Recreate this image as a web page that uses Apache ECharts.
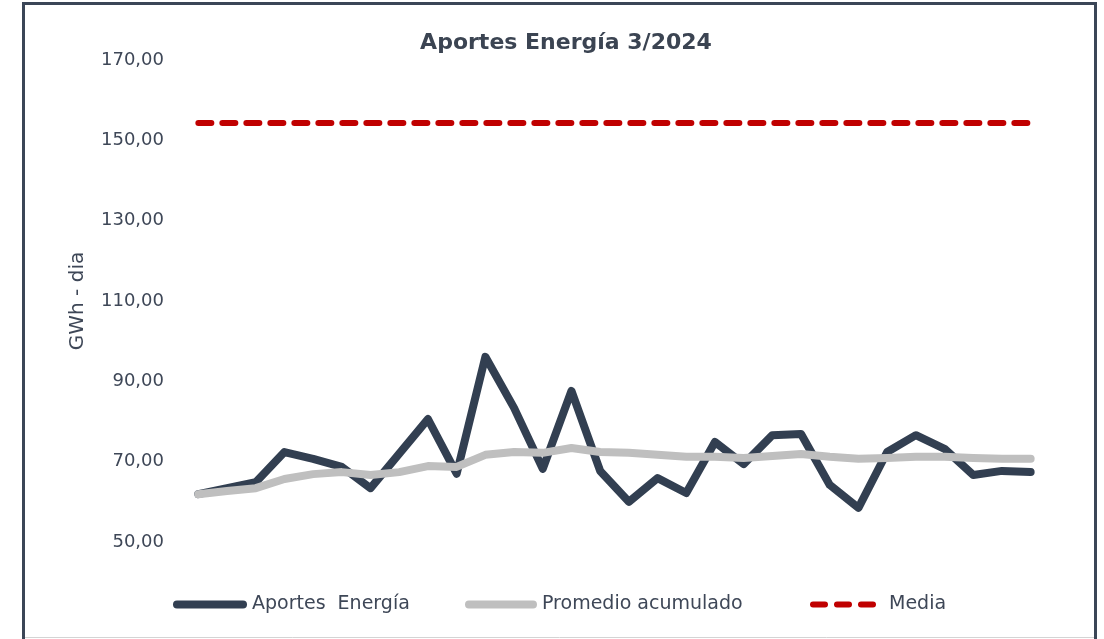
<!DOCTYPE html>
<html>
<head>
<meta charset="utf-8">
<title>Aportes Energía 3/2024</title>
<script src="https://cdn.jsdelivr.net/npm/echarts@6/dist/echarts.min.js"></script>
<style>
  html, body { margin: 0; padding: 0; background: #ffffff; }
  #chart { width: 1104px; height: 639px; }
</style>
</head>
<body>
<div id="chart"></div>
<script>
// días de marzo con dato
const days = [
  1, 2, 3, 4, 5, 6, 7, 8, 9, 10,
  11, 12, 13, 14, 15, 16, 17, 18, 19, 20,
  21, 22, 23, 24, 25, 26, 27, 28, 29, 30,
];

// GWh-dia
const aportesEnergia = [
  61.9, 63.4, 64.9, 72.4, 70.7, 68.7, 63.4, 72.0, 80.6, 67.0,
  96.1, 83.4, 68.2, 87.6, 67.7, 60.0, 65.9, 62.2, 74.9, 69.4,
  76.6, 76.9, 64.2, 58.5, 72.4, 76.6, 73.2, 66.7, 67.7, 67.4,
];

const promedioAcumulado = [
  61.9, 62.7, 63.4, 65.7, 66.9, 67.4, 66.7, 67.4, 68.9, 68.7,
  71.7, 72.4, 72.2, 73.4, 72.4, 72.2, 71.7, 71.2, 71.2, 70.9,
  71.4, 71.9, 71.2, 70.7, 70.9, 71.2, 71.2, 70.9, 70.7, 70.7,
];

const mediaValue = 154.3;
const media = days.map(() => mediaValue);

const yTicks = { min: 50, max: 170, interval: 20 };

const FONT = "DejaVu Sans";
const TEXT = "#3e4757";
const DARK = "#323f51";
const GREY = "#bfbfbf";
const RED = "#c00000";

// iconos de leyenda: trazo grueso con extremos redondeados
const ICON_SOLID = "path://M4,0 L70,0 A4,4 0 0 1 70,8 L4,8 A4,4 0 0 1 4,0 Z";
const ICON_DASH =
  "path://M3,0 L15,0 A3,3 0 0 1 15,6 L3,6 A3,3 0 0 1 3,0 Z " +
  "M27,0 L39,0 A3,3 0 0 1 39,6 L27,6 A3,3 0 0 1 27,0 Z " +
  "M51,0 L63,0 A3,3 0 0 1 63,6 L51,6 A3,3 0 0 1 51,0 Z";

function fmtComma(v) {
  return Number(v).toFixed(2).replace(".", ",");
}

const chart = echarts.init(document.getElementById("chart"), null, {
  renderer: "canvas",
});

const legendText = { color: TEXT, fontFamily: FONT, fontSize: 19 };

const option = {
  animation: false,
  backgroundColor: "#ffffff",

  title: {
    text: "Aportes Energía 3/2024",
    left: 561,
    top: 27,
    textAlign: "center",
    textStyle: {
      color: "#3b4452",
      fontFamily: FONT,
      fontSize: 22,
      fontWeight: "bold",
    },
  },

  graphic: [
    {
      type: "rect",
      shape: { x: 23.5, y: 3.5, width: 1072, height: 650 },
      style: { fill: null, stroke: "#3b4657", lineWidth: 3 },
      silent: true,
    },
    {
      type: "line",
      shape: { x1: 25, y1: 637.5, x2: 1094, y2: 637.5 },
      style: { stroke: "#d4d4d4", lineWidth: 1 },
      silent: true,
    },
  ],

  legend: [
    {
      data: [{ name: "Aportes  Energía", icon: ICON_SOLID }],
      left: 173,
      top: 595,
      padding: 0,
      itemWidth: 74,
      itemHeight: 8,
      textStyle: legendText,
    },
    {
      data: [{ name: "Promedio acumulado", icon: ICON_SOLID }],
      left: 465,
      top: 595,
      padding: 0,
      itemWidth: 72,
      itemHeight: 8,
      textStyle: legendText,
    },
    {
      data: [{ name: "Media", icon: ICON_DASH }],
      left: 810,
      top: 595,
      padding: 0,
      itemWidth: 66,
      itemHeight: 6,
      textStyle: { ...legendText, padding: [0, 0, 0, 8] },
    },
  ],

  grid: {
    left: 184,
    right: 59,
    top: 60,
    bottom: 97,
    containLabel: false,
  },

  xAxis: {
    type: "category",
    data: days,
    boundaryGap: true,
    show: false,
  },

  yAxis: {
    type: "value",
    min: yTicks.min,
    max: yTicks.max,
    interval: yTicks.interval,
    name: "GWh - dia",
    nameLocation: "middle",
    nameRotate: 90,
    nameGap: 96,
    nameTextStyle: { color: TEXT, fontFamily: FONT, fontSize: 20 },
    axisLine: { show: false },
    axisTick: { show: false },
    splitLine: { show: false },
    axisLabel: {
      color: TEXT,
      fontFamily: FONT,
      fontSize: 18,
      margin: 20,
      formatter: fmtComma,
    },
  },

  series: [
    {
      name: "Media",
      type: "line",
      data: media,
      symbol: "none",
      z: 1,
      lineStyle: { color: RED, width: 6, type: [13, 11], cap: "round" },
      itemStyle: { color: RED },
    },
    {
      name: "Aportes  Energía",
      type: "line",
      data: aportesEnergia,
      symbol: "none",
      z: 2,
      lineStyle: { color: DARK, width: 8, cap: "round", join: "round" },
      itemStyle: { color: DARK },
    },
    {
      name: "Promedio acumulado",
      type: "line",
      data: promedioAcumulado,
      symbol: "none",
      z: 3,
      lineStyle: { color: GREY, width: 8, cap: "round", join: "round" },
      itemStyle: { color: GREY },
    },
  ],
};

chart.setOption(option);
</script>
</body>
</html>
